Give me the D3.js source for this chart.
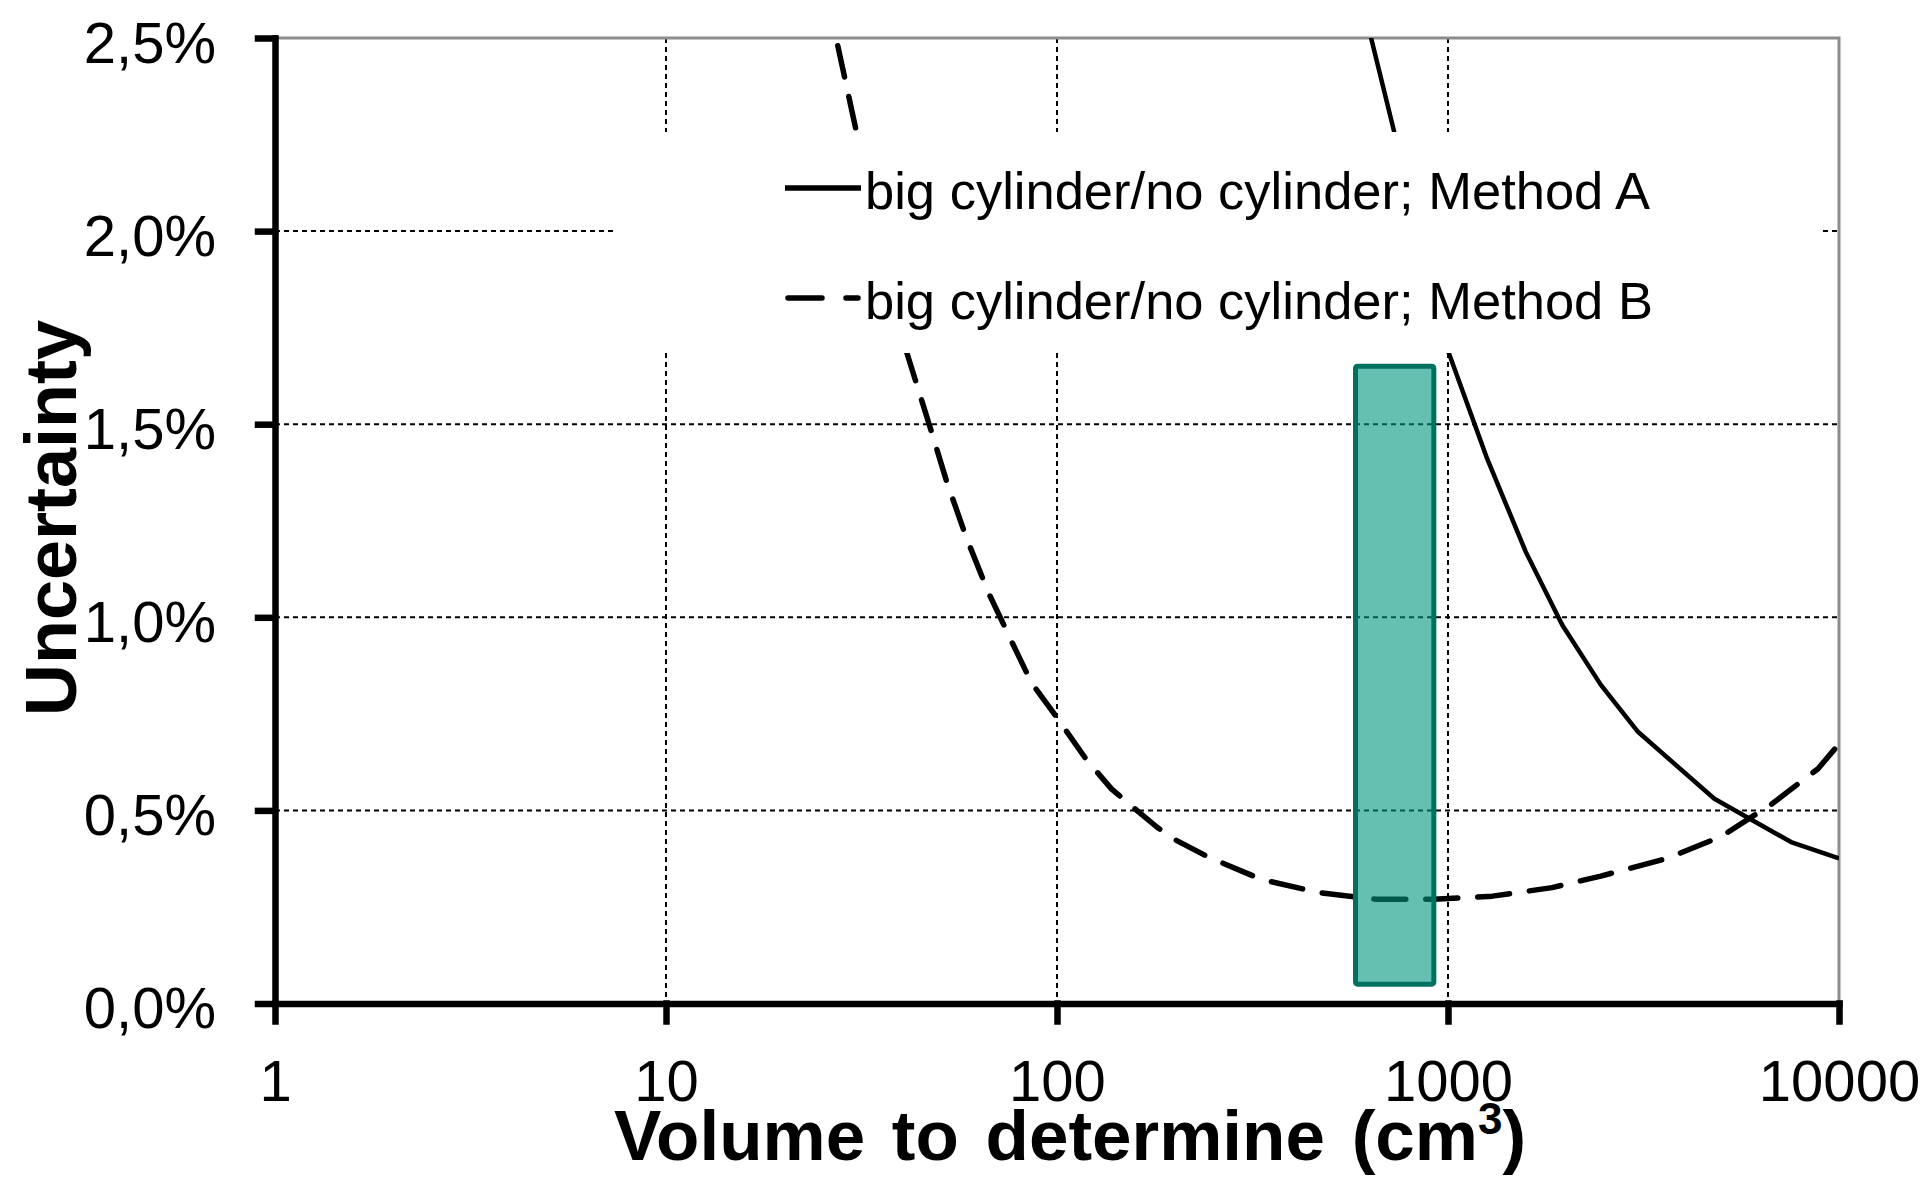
<!DOCTYPE html>
<html>
<head>
<meta charset="utf-8">
<script src="https://cdn.jsdelivr.net/npm/d3@7"></script>
<style>
  body { margin: 0; background: #fff; }
  svg { font-family: "Liberation Sans", Arial, sans-serif; }
</style>
</head>
<body>
<svg></svg>
<script>
// tick values and labels
let xTicks = [1, 10, 100, 1000, 10000]
let xTickLabels = ['1', '10', '100', '1000', '10000']
let yTicks = [0, 0.5, 1, 1.5, 2, 2.5]
let yTickLabels = ['0,0%', '0,5%', '1,0%', '1,5%', '2,0%', '2,5%']

// Method A (solid) - volume in cm3, uncertainty in %
let volA = [500, 1000, 1260, 1580, 1960, 2460, 3050, 4800, 7540, 10000]
let uncA = [2.93, 1.69, 1.41, 1.17, 0.98, 0.825, 0.705, 0.53, 0.418, 0.376]

// Method B (dashed)
let volB = [27.5, 30.8, 41.3, 47.1, 52.2, 58.5, 66.7, 77.1, 86.1, 100, 119, 138, 160, 180, 198, 244, 334, 468, 654, 919, 1300, 1845, 2460, 3640, 4990, 6700, 8840, 10000]
let uncB = [2.48, 2.25, 1.685, 1.5, 1.352, 1.209, 1.065, 0.931, 0.83, 0.74, 0.631, 0.555, 0.5, 0.457, 0.427, 0.379, 0.321, 0.287, 0.27, 0.27, 0.278, 0.3, 0.33, 0.376, 0.432, 0.515, 0.608, 0.672]

// highlighted range (teal box)
let boxVol = [580, 920]
let boxUnc = [0.05, 1.65]

let legendLabels = ['big cylinder/no cylinder; Method A', 'big cylinder/no cylinder; Method B']

let width = 1926
let height = 1178
let plotLeft = 275, plotRight = 1839, plotTop = 38, plotBottom = 1003.5

let svg = d3.select('svg').attr('width', width).attr('height', height)

let xScale = d3.scaleLog().domain([1, 10000]).range([plotLeft, plotRight])
let yScale = d3.scaleLinear().domain([0, 2.5]).range([plotBottom, plotTop])

// clip for the curves
svg.append('defs').append('clipPath').attr('id', 'plot')
    .append('rect')
    .attr('x', plotLeft).attr('y', plotTop)
    .attr('width', plotRight - plotLeft).attr('height', plotBottom - plotTop)

// gridlines
let grid = svg.append('g')
grid.selectAll('.hg')
    .data(yTicks.filter(d => d > 0 && d < 2.5))
    .enter().append('line')
    .attr('x1', plotLeft).attr('x2', plotRight)
    .attr('y1', d => yScale(d)).attr('y2', d => yScale(d))
    .attr('stroke', '#000').attr('stroke-width', 2).attr('stroke-dasharray', '5,4')
grid.selectAll('.vg')
    .data(xTicks.filter(d => d > 1 && d < 10000))
    .enter().append('line')
    .attr('x1', d => xScale(d)).attr('x2', d => xScale(d))
    .attr('y1', plotTop).attr('y2', plotBottom)
    .attr('stroke', '#000').attr('stroke-width', 2).attr('stroke-dasharray', '5,4')

// top and right frame
svg.append('path')
    .attr('d', `M${plotLeft},${plotTop}H${plotRight}V${plotBottom}`)
    .attr('fill', 'none').attr('stroke', '#8c8c8c').attr('stroke-width', 3)

// curves
let line = d3.line()
    .x(d => xScale(d[0]))
    .y(d => yScale(d[1]))

let curves = svg.append('g').attr('clip-path', 'url(#plot)')
curves.append('path')
    .datum(volA.map((v, i) => [v, uncA[i]]))
    .attr('d', line)
    .attr('fill', 'none').attr('stroke', '#000').attr('stroke-width', 4.5)
    .attr('stroke-linejoin', 'round')
curves.append('path')
    .datum(volB.map((v, i) => [v, uncB[i]]))
    .attr('d', line)
    .attr('fill', 'none').attr('stroke', '#000').attr('stroke-width', 5.5)
    .attr('stroke-linecap', 'round').attr('stroke-linejoin', 'round')
    .attr('stroke-dasharray', '32,20')

// teal box
svg.append('rect')
    .attr('x', xScale(boxVol[0]))
    .attr('y', yScale(boxUnc[1]))
    .attr('width', xScale(boxVol[1]) - xScale(boxVol[0]))
    .attr('height', yScale(boxUnc[0]) - yScale(boxUnc[1]))
    .attr('rx', 2)
    .attr('fill', 'rgb(0,150,127)').attr('fill-opacity', 0.6)
    .attr('stroke', '#00705f').attr('stroke-width', 5)

// legend (white box hides grid and curves behind it)
let legend = svg.append('g')
legend.append('rect')
    .attr('x', 614).attr('y', 132).attr('width', 1209).attr('height', 221)
    .attr('fill', '#fff')
let rows = legend.selectAll('.row')
    .data(legendLabels)
    .enter().append('g')
    .attr('transform', (d, i) => `translate(0,${188 + i * 110})`)
rows.append('line')
    .attr('x1', (d, i) => i ? 788 : 785).attr('x2', (d, i) => i ? 858 : 861)
    .attr('y1', 0).attr('y2', 0)
    .attr('stroke', '#000').attr('stroke-width', 5.5)
    .attr('stroke-linecap', (d, i) => i ? 'round' : 'butt')
    .attr('stroke-dasharray', (d, i) => i ? '34,24' : null)
rows.append('text')
    .attr('x', 865).attr('y', 21)
    .attr('font-size', 52.5)
    .text(d => d)

// axes
let yAxis = d3.axisLeft(yScale)
    .tickValues(yTicks)
    .tickFormat((d, i) => yTickLabels[i])
    .tickSize(17).tickSizeOuter(0).tickPadding(42)
let gy = svg.append('g')
    .attr('transform', `translate(${plotLeft},0)`)
    .call(yAxis)
gy.selectAll('text').attr('font-size', 58).attr('fill', '#000').attr('dy', '0.42em')
    .attr('font-family', '"Liberation Sans", Arial, sans-serif')

let xAxis = d3.axisBottom(xScale)
    .tickValues(xTicks)
    .tickFormat((d, i) => xTickLabels[i])
    .tickSize(18).tickSizeOuter(0).tickPadding(38)
let gx = svg.append('g')
    .attr('transform', `translate(0,${plotBottom})`)
    .call(xAxis)
gx.selectAll('text').attr('font-size', 58).attr('fill', '#000')
    .attr('font-family', '"Liberation Sans", Arial, sans-serif')

svg.selectAll('.domain, .tick line')
    .attr('stroke', '#000').attr('stroke-width', 6.5)
    .attr('stroke-linecap', 'square')

// axis titles
let xTitle = svg.append('text')
    .attr('x', 1070).attr('y', 1160)
    .attr('text-anchor', 'middle')
    .attr('font-size', 71).attr('font-weight', 'bold')
    .attr('word-spacing', 7)
xTitle.append('tspan').text('Volume to determine (cm')
xTitle.append('tspan').attr('font-size', 44).attr('dy', -26).text('3')
xTitle.append('tspan').attr('dy', 26).text(')')

svg.append('text')
    .attr('transform', 'translate(76,518) rotate(-90)')
    .attr('text-anchor', 'middle')
    .attr('font-size', 72).attr('font-weight', 'bold')
    .text('Uncertainty')
</script>
</body>
</html>
